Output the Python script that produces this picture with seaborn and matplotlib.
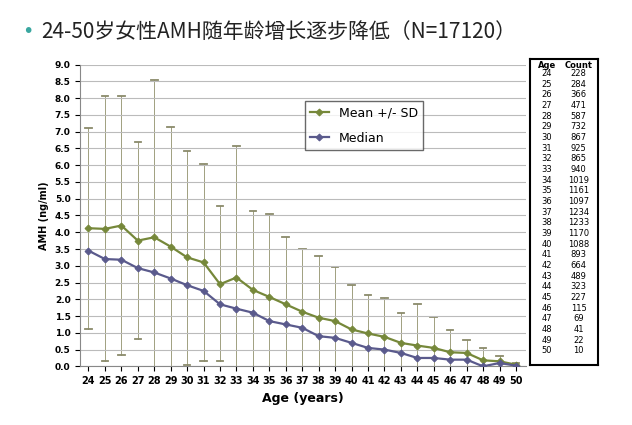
import numpy as np
import pandas as pd
import seaborn as sns
import matplotlib.pyplot as plt

ages = list(range(24, 51))
mean_amh = [4.12, 4.10, 4.20, 3.75, 3.85, 3.57, 3.25, 3.10, 2.45, 2.65, 2.28, 2.07, 1.85, 1.63,
            1.45, 1.35, 1.10, 0.98, 0.88, 0.70, 0.62, 0.55, 0.42, 0.40, 0.18, 0.15, 0.05]
median_amh = [3.45, 3.20, 3.18, 2.93, 2.80, 2.62, 2.42, 2.25, 1.85, 1.72, 1.60, 1.35, 1.25, 1.15,
              0.90, 0.85, 0.70, 0.55, 0.50, 0.40, 0.25, 0.25, 0.20, 0.20, 0.00, 0.10, 0.02]
upper_sd = [7.10, 8.05, 8.05, 6.70, 8.55, 7.15, 6.42, 6.05, 4.78, 6.58, 4.62, 4.55, 3.85, 3.50,
            3.30, 2.95, 2.42, 2.12, 2.05, 1.60, 1.85, 1.48, 1.08, 0.80, 0.55, 0.30, 0.10]
lower_sd = [1.10, 0.15, 0.33, 0.82, 0.0, 0.0, 0.05, 0.15, 0.15, 0.0, 0.0, 0.0, 0.0, 0.0,
            0.0, 0.0, 0.0, 0.0, 0.0, 0.0, 0.0, 0.0, 0.0, 0.0, 0.0, 0.0, 0.0]
counts = [228, 284, 366, 471, 587, 732, 867, 925, 865, 940, 1019, 1161, 1097, 1234,
          1233, 1170, 1088, 893, 664, 489, 323, 227, 115, 69, 41, 22, 10]

df = pd.DataFrame({'age': ages, 'mean': mean_amh, 'median': median_amh})

cjk = ['Noto Sans CJK SC', 'Noto Sans CJK JP', 'Noto Sans CJK TC', 'DejaVu Sans']
plt.rcParams['font.family'] = 'sans-serif'
plt.rcParams['font.sans-serif'] = ['DejaVu Sans'] + cjk
fig = plt.figure(figsize=(6.32, 4.25), dpi=100)
ax = fig.add_axes([0.127, 0.138, 0.705, 0.71])

green = '#76883a'
purple = '#5a5a8c'

# error bars
for a, lo, hi in zip(ages, lower_sd, upper_sd):
    ax.plot([a, a], [lo, hi], color='#a0a080', lw=0.7, zorder=1)
    ax.plot([a - 0.2, a + 0.2], [hi, hi], color='#8a8a6a', lw=1.3, zorder=1)
    if lo > 0:
        ax.plot([a - 0.2, a + 0.2], [lo, lo], color='#8a8a6a', lw=1.3, zorder=1)

sns.lineplot(data=df, x='age', y='mean', ax=ax, color=green, marker='D', markersize=3.5,
             markeredgecolor=green, lw=1.6, label='Mean +/- SD', zorder=3)
sns.lineplot(data=df, x='age', y='median', ax=ax, color=purple, marker='D', markersize=3.5,
             markeredgecolor=purple, lw=1.6, label='Median', zorder=3)

ax.set_xlim(23.5, 50.6)
ax.set_ylim(0, 9.0)
ax.set_xticks(ages)
ax.set_yticks(np.arange(0, 9.01, 0.5))
ax.set_yticklabels([f'{v:.1f}' for v in np.arange(0, 9.01, 0.5)], fontsize=6.5, fontweight='bold')
ax.set_xticklabels([str(a) for a in ages], fontsize=7, fontweight='bold')
ax.grid(axis='y', color='#bbbbbb', lw=0.8)
for s in ['top', 'right']:
    ax.spines[s].set_visible(False)
ax.spines['left'].set_color('#888888')
ax.spines['bottom'].set_color('#888888')
ax.set_xlabel('Age (years)', fontsize=9, fontweight='bold')
ax.set_ylabel('AMH (ng/ml)', fontsize=7, fontweight='bold')
leg = ax.legend(loc='upper left', bbox_to_anchor=(0.49, 0.9), fontsize=9, frameon=True,
                fancybox=False, edgecolor='#444444', handlelength=1.5, labelspacing=1.0)

# count table
tab = fig.add_axes([0.838, 0.142, 0.108, 0.72])
tab.set_xlim(0, 1)
tab.set_ylim(len(ages) + 0.5, -1.2)
tab.set_xticks([])
tab.set_yticks([])
for s in tab.spines.values():
    s.set_linewidth(1.5)
tab.text(0.25, -0.6, 'Age', ha='center', va='center', fontsize=6, fontweight='bold')
tab.text(0.72, -0.6, 'Count', ha='center', va='center', fontsize=6, fontweight='bold')
for i, (a, c) in enumerate(zip(ages, counts)):
    tab.text(0.25, i + 0.2, str(a), ha='center', va='center', fontsize=6)
    tab.text(0.72, i + 0.2, str(c), ha='center', va='center', fontsize=6)

fig.text(0.035, 0.925, '•', color='#3aa7a0', fontsize=14, va='center')
fig.text(0.065, 0.925, '24-50岁女性AMH随年龄增长逐步降低（N=17120）', fontsize=15,
         va='center', fontfamily=cjk, color='#222222')

fig.savefig('out.png', dpi=100)
